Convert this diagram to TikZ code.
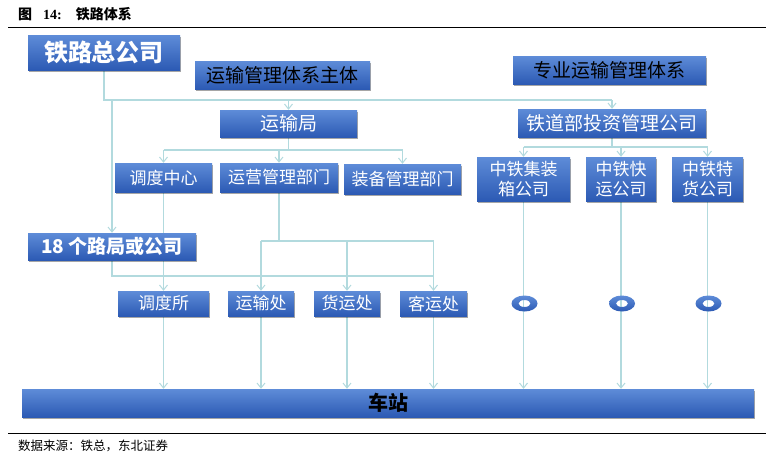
\documentclass[tikz,border=0pt]{standalone}
\usepackage{fontspec}
\setmainfont{Liberation Serif}
\newfontfamily\cjk{Noto Sans CJK SC}
\usetikzlibrary{arrows.meta,shadows,backgrounds,calc}
\definecolor{conn}{RGB}{178,218,222}
\definecolor{btop}{RGB}{94,140,216}
\definecolor{bbot}{RGB}{44,90,180}
\tikzset{
  bx/.style={rectangle, top color=btop, bottom color=bbot, draw=none, inner sep=0pt,
    text=white, font=\cjk\fontsize{17}{20}\selectfont, align=center,
    drop shadow={shadow xshift=1.2pt, shadow yshift=-1.6pt, opacity=.35, fill=black}},
  big/.style={font=\cjk\bfseries\fontsize{24}{26}\selectfont},
  dark/.style={text=black, font=\cjk\fontsize{19}{22}\selectfont},
  cn/.style={draw=conn, line width=1.1pt},
  ar/.style={cn, -{Straight Barb[length=5pt,width=8pt,line width=1pt]}},
  ring/.style={top color=btop, bottom color=bbot, even odd rule},
}
\begin{document}
\begin{tikzpicture}[x=1pt,y=-1pt]
\useasboundingbox (0,0) rectangle (769,459);
% title and rules
\node[anchor=base west, inner sep=0pt] (ttl) at (18,19)
  {\cjk\bfseries\fontsize{14}{14}\selectfont 图\hspace{11pt}{\rmfamily\bfseries 14:}\hspace{14pt}铁路体系};
\draw[line width=0.9pt] (8,27) -- (766,27);
\draw[line width=0.9pt] (8,433) -- (766,433);
\node[anchor=base west, inner sep=0pt] (src) at (18,450)
  {\cjk\fontsize{12.5}{13}\selectfont 数据来源：铁总，东北证券};
% boxes
\node[bx, big, minimum width=152pt, minimum height=35pt] (zgs) at (104,52.5) {铁路总公司};
\node[bx, dark, minimum width=175pt, minimum height=28pt] (ysz) at (282.5,75) {运输管理体系主体};
\node[bx, dark, minimum width=193pt, minimum height=28pt] (zy) at (609.5,70) {专业运输管理体系};
\node[bx, font=\cjk\fontsize{19}{22}\selectfont, minimum width=137pt, minimum height=27pt] (ysj) at (288.5,123.5) {运输局};
\node[bx, font=\cjk\fontsize{19}{22}\selectfont, minimum width=188pt, minimum height=28pt] (tdb) at (612,123) {铁道部投资管理公司};
\node[bx, minimum width=97pt, minimum height=29pt] (ddzx) at (163.5,177.5) {调度中心};
\node[bx, minimum width=118pt, minimum height=29pt] (yy) at (279,177.5) {运营管理部门};
\node[bx, minimum width=117pt, minimum height=30pt] (zb) at (402.5,179) {装备管理部门};
\node[bx, minimum width=93pt, minimum height=44pt] (jz) at (523.5,179) {中铁集装\\箱公司};
\node[bx, minimum width=70pt, minimum height=44pt] (ky) at (621,179) {中铁快\\运公司};
\node[bx, minimum width=71pt, minimum height=44pt] (th) at (707.5,179) {中铁特\\货公司};
\node[bx, font=\cjk\bfseries\fontsize{19}{22}\selectfont, minimum width=168pt, minimum height=27pt] (lj) at (112,246.5) {18 个路局或公司};
\node[bx, minimum width=91pt, minimum height=25pt] (dds) at (163.5,303.5) {调度所};
\node[bx, minimum width=66pt, minimum height=25pt] (ysc) at (261,303.5) {运输处};
\node[bx, minimum width=66pt, minimum height=25pt] (hyc) at (347,303.5) {货运处};
\node[bx, minimum width=67pt, minimum height=25pt] (kyc) at (433.5,303.5) {客运处};
\node[bx, text=black, font=\cjk\bfseries\fontsize{20}{22}\selectfont, minimum width=732pt, minimum height=28pt] (st) at (388,403) {车站};
% junction levels
\coordinate (h1) at (0,100);
\coordinate (h2) at (0,150);
\coordinate (h5) at (0,147);
\coordinate (h3) at (0,241);
\coordinate (h4) at (0,276);
\begin{pgfonlayer}{background}
\fill[white] (0,0) rectangle (769,459);
\draw[cn] (zgs.south) -- (zgs.south |- h1) -- (tdb.north |- h1);
\draw[ar] (ysj.north |- h1) -- (ysj.north);
\draw[ar] (tdb.north |- h1) -- (tdb.north);
\draw[ar] (lj.north |- h1) -- (lj.north);
\draw[cn] (ysj.south) -- (ysj.south |- h2);
\draw[cn] (ddzx.north |- h2) -- (zb.north |- h2);
\foreach \n in {ddzx,yy,zb} \draw[ar] (\n.north |- h2) -- (\n.north);
\draw[cn] (tdb.south) -- (tdb.south |- h5);
\draw[cn] (jz.north |- h5) -- (th.north |- h5);
\foreach \n in {jz,ky,th} \draw[ar] (\n.north |- h5) -- (\n.north);
\draw[ar] (ddzx.south) -- (dds.north);
\draw[cn] (yy.south) -- (yy.south |- h3);
\draw[cn] (ysc.north |- h3) -- (kyc.north |- h3);
\foreach \n in {ysc,hyc,kyc} \draw[ar] (\n.north |- h3) -- (\n.north);
\draw[cn] (lj.south) -- (lj.south |- h4) -- (kyc.north |- h4);
\foreach \n in {dds,ysc,hyc,kyc,jz,ky,th} \draw[ar] (\n.south) -- (\n.south |- st.north);
\end{pgfonlayer}
% rings
\foreach \n in {jz,ky,th}
  \shade[ring] ($(\n.south |- dds.center)+(1,0)$) ellipse (13 and 8)
               ($(\n.south |- dds.center)+(1,0)$) ellipse (6 and 3.5);
\end{tikzpicture}
\end{document}
